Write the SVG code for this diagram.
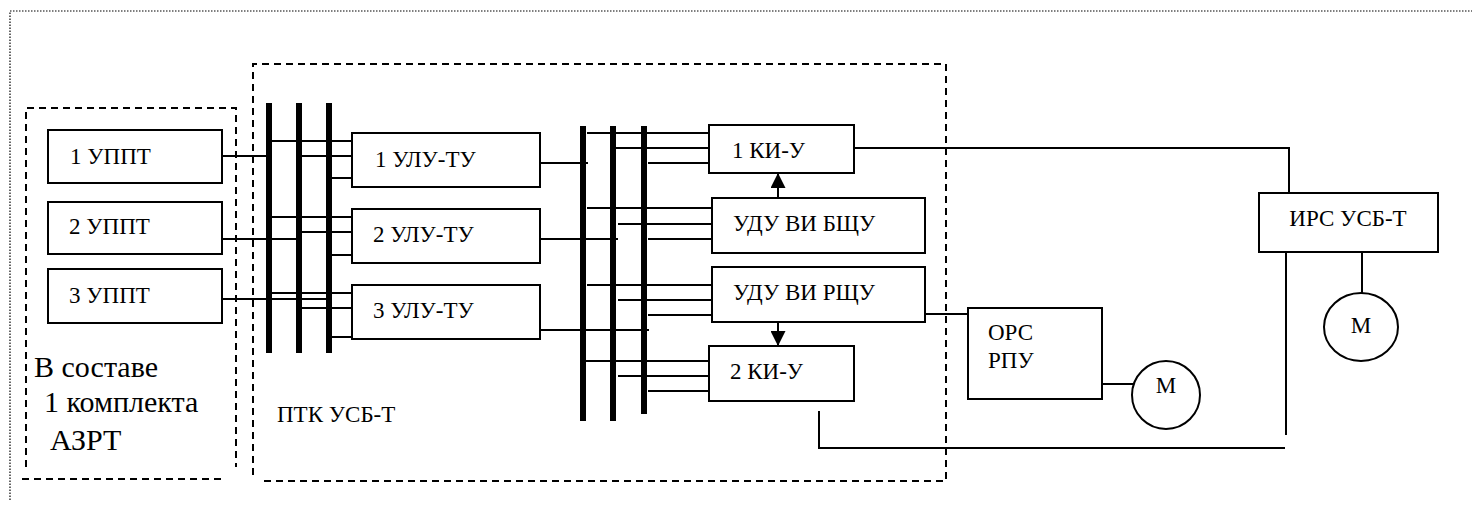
<svg xmlns="http://www.w3.org/2000/svg" width="1472" height="508" viewBox="0 0 1472 508">
<style>
  .box{fill:#fff;stroke:#000;stroke-width:2}
  .ln{fill:none;stroke:#000;stroke-width:2}
  .bar{fill:none;stroke:#000;stroke-width:6}
  .dash{fill:none;stroke:#000;stroke-width:2;stroke-dasharray:7,5}
  .dot{fill:none;stroke:#000;stroke-width:1.2;stroke-dasharray:1.5,1.5}
  .big{font-size:30px}
</style>
<defs>
  <marker id="arr" markerWidth="15" markerHeight="15" refX="14" refY="7.5" orient="auto" markerUnits="userSpaceOnUse" viewBox="0 0 15 15">
    <path d="M0,0 L15,7.5 L0,15 Z" fill="#000"/>
  </marker>
</defs>
<rect width="1472" height="508" fill="#fff"/>
<g font-family="'Liberation Serif', 'Times New Roman', serif" font-size="23" fill="#000">
<g id="frame">
  <path class="dot" d="M10,500 V11 H1472"/>
</g>
<g id="azrt-group">
  <path class="dash" d="M26,467 V108 H236 V467"/>
  <path class="dash" d="M22,479 H226"/>
  <text class="big" x="34" y="377">В составе</text>
  <text class="big" x="44" y="412">1 комплекта</text>
  <text class="big" x="50" y="450">АЗРТ</text>
</g>
<g id="ptk-group">
  <path class="dash" d="M253,475 V64 H946 V481 H263"/>
  <text x="277" y="422">ПТК УСБ-Т</text>
</g>
<g id="connectors">
  <path class="bar" d="M269,103 V353 M299,103 V353 M329,103 V353"/>
  <path class="bar" d="M583,126 V421 M613,126 V421 M644,126 V414"/>
  <path class="ln" d="M222,156 H267 M222,239 H297 M222,299 H329"/>
  <path class="ln" d="M272,141 H352 M302,156 H352 M332,178 H352"/>
  <path class="ln" d="M272,217 H352 M302,232 H352 M332,255 H352"/>
  <path class="ln" d="M272,293 H352 M302,308 H352 M332,337 H352"/>
  <path class="ln" d="M540,163 H588 M534,239 H618 M540,330 H649"/>
  <path class="ln" d="M587,133 H709 M610,148 H709 M648,163 H709"/>
  <path class="ln" d="M587,208 H712 M618,224 H712 M648,239 H712"/>
  <path class="ln" d="M587,285 H712 M618,300 H712 M648,315 H712"/>
  <path class="ln" d="M580,361 H709 M618,376 H709 M648,391 H709"/>
  <path class="ln" d="M778,200 V174" marker-end="url(#arr)"/>
  <path class="ln" d="M778,322 V345" marker-end="url(#arr)"/>
  <path class="ln" d="M854,148 H1289 V193"/>
  <path class="ln" d="M922,314 H968"/>
  <path class="ln" d="M819,411 V448 H1285"/>
  <path class="ln" d="M1286,251 V435"/>
  <path class="ln" d="M1362,252 V293"/>
  <path class="ln" d="M1102,384 H1133"/>
</g>
<g id="uppt1"><rect class="box" x="48" y="130" width="174" height="53"/><text x="70" y="164">1 УППТ</text></g>
<g id="uppt2"><rect class="box" x="48" y="202" width="174" height="52"/><text x="69" y="234">2 УППТ</text></g>
<g id="uppt3"><rect class="box" x="48" y="269" width="174" height="54"/><text x="69" y="303">3 УППТ</text></g>
<g id="ulu1"><rect class="box" x="352" y="133" width="188" height="54"/><text x="375" y="167">1 УЛУ-ТУ</text></g>
<g id="ulu2"><rect class="box" x="352" y="209" width="188" height="54"/><text x="373" y="242">2 УЛУ-ТУ</text></g>
<g id="ulu3"><rect class="box" x="352" y="285" width="188" height="54"/><text x="373" y="318">3 УЛУ-ТУ</text></g>
<g id="ki1"><rect class="box" x="709" y="125" width="145" height="48"/><text x="732" y="158">1 КИ-У</text></g>
<g id="bshu"><rect class="box" x="712" y="198" width="213" height="55"/><text x="733" y="231">УДУ ВИ БЩУ</text></g>
<g id="rshu"><rect class="box" x="712" y="267" width="213" height="55"/><text x="733" y="300">УДУ ВИ РЩУ</text></g>
<g id="ki2"><rect class="box" x="709" y="346" width="145" height="55"/><text x="730" y="379">2 КИ-У</text></g>
<g id="ors"><rect class="box" x="968" y="308" width="134" height="91"/><text x="988" y="340">ОРС</text><text x="988" y="368">РПУ</text></g>
<g id="m1"><circle class="box" cx="1166" cy="395" r="34"/><text x="1166" y="393" text-anchor="middle">М</text></g>
<g id="irs"><rect class="box" x="1259" y="193" width="179" height="59"/><text x="1348" y="226" text-anchor="middle">ИРС УСБ-Т</text></g>
<g id="m2"><ellipse class="box" cx="1361" cy="327" rx="37" ry="34"/><text x="1361" y="333" text-anchor="middle">М</text></g>
</g>
</svg>
